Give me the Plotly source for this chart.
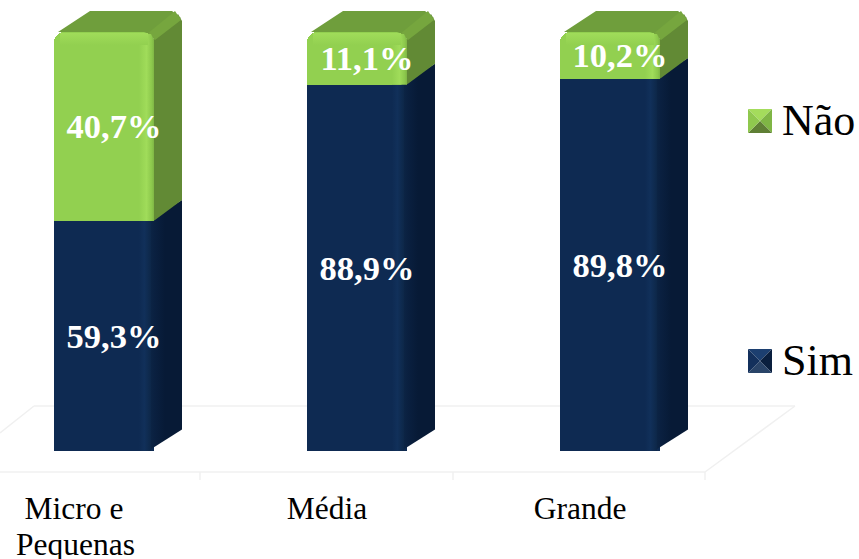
import plotly.graph_objects as go

categories = ["Micro e", "Média", "Grande"]
category_second_line = ["Pequenas", "", ""]
sim_labels = ["59,3%", "88,9%", "89,8%"]
nao_labels = ["40,7%", "11,1%", "10,2%"]
# segment heights as drawn in the picture (share of the full column height)
sim_values = [54.9, 87.4, 88.8]
nao_values = [45.1, 12.6, 11.2]

W, H = 859, 559
X0 = 104; PXU = 253           # px of first column centre, px per category
Y0 = 451; PYU = 4.19          # px of value 0, px per value unit
AXIS_PX = 472
BW = 100 / PXU
DX = 28 / PXU
DY = 21 / PYU
xpos = [0, 1, 2]
ux = lambda p: p / PXU
uy = lambda p: p / PYU
px = lambda p: p / W
py = lambda p: 1 - p / H

def poly(xs, ys, color=None, grad=None):
    kw = dict(x=xs + xs[:1], y=ys + ys[:1], mode="lines", line=dict(width=0), fill="toself",
              hoverinfo="skip", showlegend=False)
    if grad:
        kw["fillgradient"] = dict(type=grad[0], colorscale=grad[1])
        kw["fillcolor"] = grad[1][0][1]
    else:
        kw["fillcolor"] = color
    return go.Scatter(**kw)

fig = go.Figure()

# front faces
fig.add_bar(x=xpos, y=sim_values, width=BW, name="Sim", marker=dict(color="#0e2a52", line=dict(width=0)),
            hoverinfo="skip", showlegend=False)
fig.add_bar(x=xpos, y=nao_values, width=BW, name="Não", marker=dict(color="#92d050", line=dict(width=0), cornerradius=10),
            hoverinfo="skip", showlegend=False)

for x, s, n in zip(xpos, sim_values, nao_values):
    l, r = x - BW / 2, x + BW / 2
    t = s + n
    # navy side
    fig.add_trace(poly([r - ux(6), r + DX, r + DX, r - ux(6)],
                       [0, uy(1) + DY * 0.98, s + DY, s],
                       grad=("horizontal", [[0, "#0d2748"], [0.2, "#0a2040"], [0.5, "#071a36"], [1, "#071a36"]])))
    # front highlight strip on the navy part
    fig.add_trace(poly([r - ux(15), r - ux(3), r - ux(3), r - ux(15)], [0, 0, s, s],
                       grad=("horizontal", [[0, "#0e2a52"], [0.45, "#11305a"], [1, "#0d2748"]])))
    # green side
    fig.add_trace(poly([r - ux(1), r + ux(1), r + DX, r + DX, r + DX - ux(4), r - ux(1)],
                       [s, s + uy(1), s + DY, t + DY - uy(10), t + DY - uy(3), t - uy(8)],
                       color="#628a35"))
    # top face
    fig.add_trace(poly([l + ux(4), r - ux(10), r + ux(1), r + DX - ux(1), r + DX - ux(10), l + DX + ux(8)],
                       [t, t, t - uy(4), t + DY - uy(7), t + DY, t + DY],
                       color="#6f9e3c"))
    # ridge between top and side
    fig.add_trace(poly([r - ux(7), r + DX - ux(7), r + DX - ux(1), r + ux(1)],
                       [t - uy(2), t + DY, t + DY - uy(9), t - uy(8)],
                       color="#76a63e"))
    # front highlights
    fig.add_trace(poly([r - ux(15), r, r, r - ux(3), r - ux(15)],
                       [s, s, t - uy(8), t - uy(2), t - uy(2)],
                       grad=("horizontal", [[0, "#92d050"], [0.5, "#a0dc5a"], [0.85, "#8cc84c"], [1, "#7fb545"]])))
    fig.add_trace(poly([l + ux(6), r - ux(6), r - ux(6), l + ux(6)],
                       [t - uy(1), t - uy(1), t - uy(13), t - uy(13)],
                       grad=("vertical", [[0, "#92d050"], [1, "#a0dc5a"]])))

# value labels
fig.add_scatter(x=[x + ux(10) for x in xpos], y=[s / 2 - uy(3) for s in sim_values], mode="text", text=sim_labels,
                textposition="middle center", textfont=dict(family="Liberation Serif", size=34.5, color="white"),
                texttemplate="<b>%{text}</b>", hoverinfo="skip", showlegend=False)
fig.add_scatter(x=[x + ux(10) for x in xpos], y=[s + n / 2 - uy(3) for s, n in zip(sim_values, nao_values)], mode="text",
                text=nao_labels, textposition="middle center",
                textfont=dict(family="Liberation Serif", size=34.5, color="white"),
                texttemplate="<b>%{text}</b>", hoverinfo="skip", showlegend=False)

# floor grid
GRID = "#f0f0f0"
shapes = []
def seg(a, b, c, d):
    shapes.append(dict(type="line", xref="paper", yref="paper", x0=px(a), y0=py(b), x1=px(c), y1=py(d),
                       line=dict(color=GRID, width=1.5), layer="below"))
seg(0, 472, 705, 472)
seg(34, 406, 795, 406)
seg(0, 433, 34, 406)
seg(705, 472, 795, 406)
for tick in (200, 453, 705):
    seg(tick, 472, tick, 480)

# legend swatches
def swatch(left, top, s, cols):
    cx, cy = left + s / 2, top + s / 2
    corners = [(left, top), (left + s, top), (left + s, top + s), (left, top + s)]
    for i, col in enumerate(cols):
        a, b = corners[i], corners[(i + 1) % 4]
        path = f"M {px(a[0])} {py(a[1])} L {px(b[0])} {py(b[1])} L {px(cx)} {py(cy)} Z"
        shapes.append(dict(type="path", xref="paper", yref="paper", path=path, fillcolor=col, line=dict(width=0)))
swatch(748, 109, 24, ["#a4dc5c", "#7fb545", "#5f7f35", "#8fc84e"])
swatch(748, 349, 24, ["#1c3f70", "#0a1f3e", "#2a4468", "#13305c"])

annotations = [
    dict(text="Não", x=px(780), y=py(121), xref="paper", yref="paper", xanchor="left", yanchor="middle",
         showarrow=False, font=dict(family="Liberation Serif", size=44, color="black")),
    dict(text="Sim", x=px(780), y=py(360), xref="paper", yref="paper", xanchor="left", yanchor="middle",
         showarrow=False, font=dict(family="Liberation Serif", size=44, color="black")),
]
for x, line2 in zip(xpos, category_second_line):
    if line2:
        annotations.append(dict(text=line2, x=x - ux(29), y=py(544), xref="x", yref="paper", yanchor="middle",
                                showarrow=False, font=dict(family="Liberation Serif", size=31.5, color="black")))

fig.update_layout(
    width=W, height=H, barmode="stack", bargap=0, showlegend=False,
    paper_bgcolor="white", plot_bgcolor="rgba(0,0,0,0)",
    margin=dict(l=0, r=0, t=0, b=0), shapes=shapes, annotations=annotations,
    xaxis=dict(range=[-X0 / PXU, (W - X0) / PXU], showgrid=False, zeroline=False, showline=False, ticks="",
               tickmode="array", tickvals=[x - ux(30) for x in xpos], ticktext=categories,
               tickfont=dict(family="Liberation Serif", size=31.5, color="black"), automargin=False),
    yaxis=dict(domain=[1 - AXIS_PX / H, 1], range=[-(AXIS_PX - Y0) / PYU, Y0 / PYU], visible=False),
)
fig.update_xaxes(ticklabelstandoff=14)
fig.write_html("out.html", config={"displayModeBar": False},
               post_script="document.body.style.margin='0';document.body.style.overflow='hidden';")
